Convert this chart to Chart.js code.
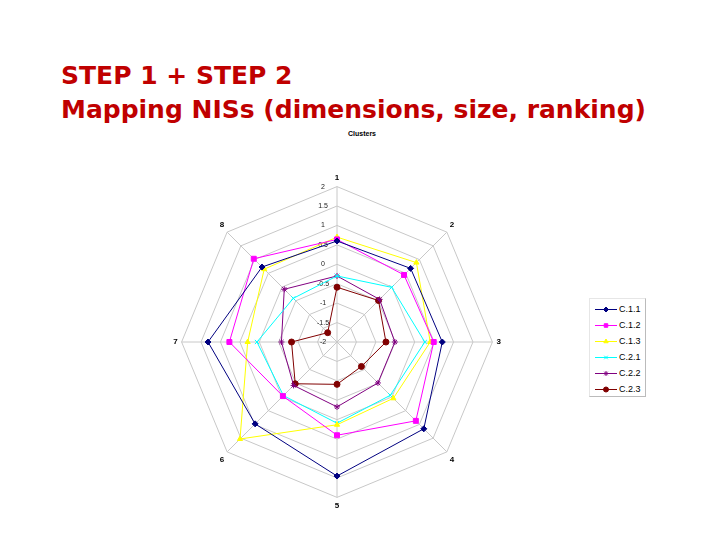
<!DOCTYPE html>
<html>
<head>
<meta charset="utf-8">
<script src="https://cdn.jsdelivr.net/npm/chart.js@4"></script>
<style>
  body { margin: 0; background: #fff; width: 720px; height: 540px; position: relative; overflow: hidden; }
  .title { position: absolute; left: 61px; top: 59px; color: #c00000; font-family: "DejaVu Sans", sans-serif; font-weight: bold; font-size: 25px; line-height: 34px; white-space: nowrap; }
  .sub { position: absolute; left: 330px; top: 130px; width: 64px; text-align: center; font-family: "Liberation Sans", Arial, sans-serif; font-weight: bold; font-size: 7px; color: #000; }
  .wrap { position: absolute; left: 168px; top: 174px; width: 338px; height: 338px; }
  .legend { position: absolute; left: 589px; top: 298px; width: 55px; height: 97px; border: 1px solid #bbb; border-top-color: #e6e6e6; border-left-color: #e6e6e6; font-family: "Liberation Sans", Arial, sans-serif; font-size: 9px; color: #000; }
  .legend div { position: absolute; left: 0; height: 10px; line-height: 10px; }
  .legend canvas { position: absolute; left: 5px; top: 0; }
  .legend span { position: absolute; left: 29px; top: 0; white-space: nowrap; }
</style>
</head>
<body>
<div class="title">STEP 1 + STEP 2<br>Mapping NISs (dimensions, size, ranking)</div>
<div class="sub">Clusters</div>
<div class="wrap"><canvas id="chart"></canvas></div>
<div class="legend" id="legend"></div>
<script>
const axisLabels = ['1', '2', '3', '4', '5', '6', '7', '8'];
const seriesNames = ['C.1.1', 'C.1.2', 'C.1.3', 'C.2.1', 'C.2.2', 'C.2.3'];
const c11 = [0.60, 0.68, 0.71, 1.16, 1.45, 0.98, 1.32, 0.73];
const c12 = [0.64, 0.44, 0.49, 0.87, 0.40, -0.03, 0.77, 1.03];
const c13 = [0.70, 0.89, 0.40, 0.05, 0.13, 1.53, 0.30, 0.65];
const c21 = [-0.30, -0.01, 0.26, -0.06, 0.09, -0.05, 0.06, -0.41];
const c22 = [-0.30, -0.45, -0.51, -0.51, -0.33, -0.42, -0.57, -0.08];
const c23 = [-0.59, -0.49, -0.74, -1.11, -0.91, -0.48, -0.83, -1.66];
const tickValues = [-2, -1.5, -1, -0.5, 0, 0.5, 1, 1.5, 2];

const colors = ['#000080', '#ff00ff', '#ffff00', '#00ffff', '#800080', '#800000'];
const styles = ['rectRot', 'rect', 'triangle', 'crossRot', 'star', 'circle'];
const values = [c11, c12, c13, c21, c22, c23];

const datasets = values.map((v, i) => ({
    label: seriesNames[i],
    data: v,
    borderColor: colors[i],
    backgroundColor: colors[i],
    borderWidth: 1,
    fill: false,
    pointStyle: styles[i],
    pointRadius: styles[i] == 'rect' ? 3.5 : 3,
    pointBorderWidth: 1
}));

// tick labels sit left of the vertical axis, like the excel original
const tickText = {
    id: 'tickText',
    beforeDatasetsDraw(chart) {
        const s = chart.scales.r;
        const ctx = chart.ctx;
        ctx.save();
        ctx.font = '7px "Liberation Sans", Arial, sans-serif';
        ctx.fillStyle = '#222';
        ctx.textAlign = 'center';
        ctx.textBaseline = 'middle';
        tickValues.forEach(t => {
            const d = s.getDistanceFromCenterForValue(t);
            ctx.fillText(String(t), s.xCenter - 14, s.yCenter - d);
        });
        ctx.restore();
    }
};

new Chart(document.getElementById('chart'), {
    type: 'radar',
    data: { labels: axisLabels, datasets: datasets },
    options: {
        responsive: true,
        maintainAspectRatio: false,
        animation: false,
        plugins: { legend: { display: false }, tooltip: { enabled: false } },
        scales: {
            r: {
                min: -2,
                max: 2,
                ticks: { stepSize: 0.5, display: false },
                grid: { color: '#c8c8c8', lineWidth: 1 },
                angleLines: { color: '#c8c8c8', lineWidth: 1 },
                pointLabels: { font: { size: 8, weight: 'bold', family: '"Liberation Sans", Arial, sans-serif' }, color: '#000', padding: 4 }
            }
        }
    },
    plugins: [tickText]
});

// legend: short line with the marker, then the name
const legendBox = document.getElementById('legend');
seriesNames.forEach((name, i) => {
    const row = document.createElement('div');
    row.style.top = (5 + i * 16) + 'px';
    row.style.width = '55px';
    const c = document.createElement('canvas');
    c.width = 22; c.height = 10;
    const g = c.getContext('2d');
    g.strokeStyle = colors[i];
    g.fillStyle = colors[i];
    g.lineWidth = 1;
    g.beginPath(); g.moveTo(0, 5.5); g.lineTo(22, 5.5); g.stroke();
    Chart.helpers.drawPoint(g, { pointStyle: styles[i], radius: 2.5, borderWidth: 1 }, 11, 5.5);
    const sp = document.createElement('span');
    sp.textContent = name;
    row.appendChild(c);
    row.appendChild(sp);
    legendBox.appendChild(row);
});
</script>
</body>
</html>
